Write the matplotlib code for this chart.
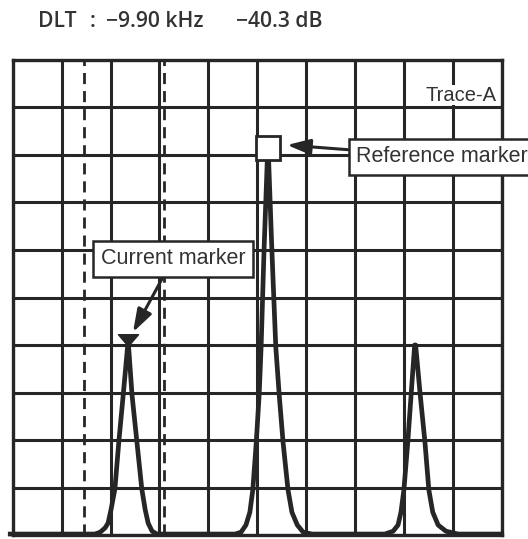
import matplotlib
matplotlib.use("Agg")
import matplotlib.pyplot as plt
from matplotlib.path import Path

# ---- data (x in screen divisions, y in dB, 10 dB/div) ----
trace_x = [-0.05, 1.55, 1.68, 1.79, 1.89, 1.95, 2.01, 2.09, 2.17, 2.26, 2.35, 2.37, 2.44, 2.54, 2.64, 2.71, 2.77, 2.85, 2.95,
           4.55, 4.67, 4.77, 4.85, 4.91, 4.98, 5.04, 5.08, 5.14, 5.21, 5.23, 5.30, 5.38, 5.45, 5.53, 5.63, 5.71, 5.82, 5.94, 6.12,
           7.61, 7.78, 7.88, 7.94, 8.00, 8.08, 8.15, 8.22, 8.24, 8.33, 8.43, 8.51, 8.59, 8.70, 8.86, 9.11, 10.0]
trace_db = [-99.8, -99.8, -99.8, -99.4, -98.5, -97.5, -94.7, -90.3, -80.4, -70.5, -60.3, -60.3, -70.5, -80.4, -90.3, -94.7, -97.5, -99.2, -99.8,
            -99.8, -99.4, -97.9, -95.2, -90.5, -80.6, -70.5, -60.4, -40.0, -20.0, -20.0, -40.0, -60.4, -70.5, -80.6, -90.5, -95.2, -97.9, -99.4, -99.8,
            -99.8, -99.2, -97.9, -95.2, -90.5, -80.4, -70.1, -60.0, -60.0, -70.1, -80.4, -90.5, -95.2, -97.9, -99.2, -99.8, -99.8]

ref_marker = (5.22, -18.6)       # reference marker (square)
cur_marker = (2.36, -60.3)       # current marker (triangle)
cursor_lines = [1.46, 3.09]      # dashed vertical cursors
delta_freq = "−9.90 kHz"
delta_level = "−40.3 dB"
trace_name = "Trace-A"

INK = "#262626"

fig = plt.figure(figsize=(5.28, 5.39), dpi=100)
ax = fig.add_axes([12.7 / 528, 4 / 539, 489 / 528, 475 / 539])
ax.set_xlim(0, 10)
ax.set_ylim(-100, 0)
ax.set_xticks(range(0, 11))
ax.set_yticks(range(-100, 1, 10))
ax.tick_params(length=0, labelbottom=False, labelleft=False)
ax.grid(True, color=INK, linewidth=2.2, zorder=1)
ax.set_axisbelow(True)
for s in ax.spines.values():
    s.set_color(INK)
    s.set_linewidth(2.4)

for cx in cursor_lines:
    ax.axvline(cx, color=INK, linewidth=2.0, linestyle=(0, (4, 2.5)), zorder=2)

ax.plot(trace_x, trace_db, color=INK, linewidth=3.4, solid_joinstyle="round",
        clip_on=False, zorder=3)

# reference marker: open square
ax.plot([ref_marker[0]], [ref_marker[1]], marker="s", markersize=17,
        markerfacecolor="white", markeredgecolor=INK, markeredgewidth=2.0, zorder=4)

# current marker: downward triangle with apex at the peak
tri = Path([(-0.85, 1.0), (0.85, 1.0), (0.0, 0.0), (-0.85, 1.0)],
           [Path.MOVETO, Path.LINETO, Path.LINETO, Path.CLOSEPOLY])
ax.plot([cur_marker[0]], [cur_marker[1]], marker=tri, markersize=17,
        color=INK, zorder=4)

txt_font = dict(family=["Liberation Sans", "DejaVu Sans"], fontsize=15.5, color="#333333")
box = dict(boxstyle="square,pad=0.35", facecolor="white", edgecolor=INK, linewidth=1.8)
arrow = dict(arrowstyle="-|>,head_length=0.9,head_width=0.3", color=INK, linewidth=2.2,
             shrinkA=0, shrinkB=0)

ax.annotate("Current marker", xy=(2.46, -57.3), xytext=(3.28, -41.8),
            ha="center", va="center", bbox=box, arrowprops=arrow,
            annotation_clip=False, zorder=5, **txt_font)
ax.annotate("Reference marker", xy=(5.61, -17.9), xytext=(8.78, -20.4),
            ha="center", va="center", bbox=box, arrowprops=arrow,
            annotation_clip=False, zorder=5, **txt_font)

trace_font = dict(txt_font, fontsize=14.5)
ax.text(9.9, -7.4, trace_name, ha="right", va="center", zorder=5,
        bbox=dict(boxstyle="square,pad=0.02", facecolor="white", edgecolor="none"),
        **trace_font)

title_font = dict(family=["Open Sans", "DejaVu Sans"], fontweight="semibold",
                  fontsize=15.2, color="#333333", va="baseline")
ty = 1 - 27.5 / 539
fig.text(38 / 528, ty, "DLT", **title_font)
fig.text(90 / 528, ty, ":", **title_font)
fig.text(106 / 528, ty, delta_freq, **title_font)
fig.text(236 / 528, ty, delta_level, **title_font)

fig.savefig("out.png", dpi=100, facecolor="white")
